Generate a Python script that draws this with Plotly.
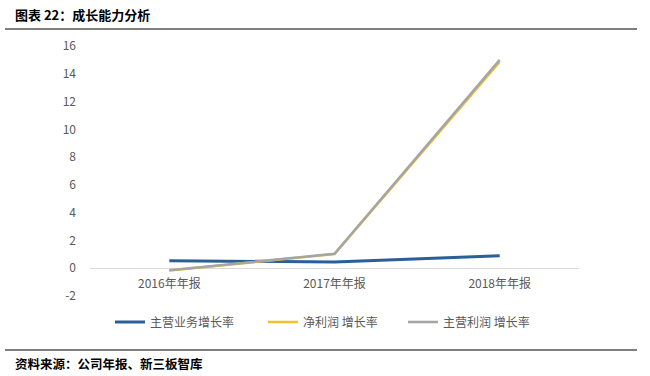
import plotly.graph_objects as go

categories = ["2016年年报", "2017年年报", "2018年年报"]
main_business_growth = [0.54, 0.45, 0.90]
net_profit_growth = [-0.17, 1.02, 14.85]
main_profit_growth = [-0.15, 1.04, 15.0]
series_names = ["主营业务增长率", "净利润 增长率", "主营利润 增长率"]
y_ticks = [-2, 0, 2, 4, 6, 8, 10, 12, 14, 16]
y_tick_labels = [str(v) for v in y_ticks]
y_range = [-2, 16]

FONT = "Noto Sans CJK SC"
fig = go.Figure()
fig.add_trace(go.Scatter(x=categories, y=main_business_growth, name=series_names[0],
                         mode="lines", line=dict(color="#2b5f97", width=3), legend="legend"))
fig.add_trace(go.Scatter(x=categories, y=net_profit_growth, name=series_names[1],
                         mode="lines", line=dict(color="#f2c22a", width=2.5), legend="legend2"))
fig.add_trace(go.Scatter(x=categories, y=main_profit_growth, name=series_names[2],
                         mode="lines", line=dict(color="#a5a5a5", width=2.5), legend="legend3"))

def leg(xpx):
    return dict(orientation="h", x=xpx / 650, xref="container", y=1 - 322 / 376, yref="container",
                xanchor="left", yanchor="middle", itemwidth=30,
                font=dict(size=12, color="#595959"), bgcolor="rgba(0,0,0,0)")

zero_pos = (0 - y_range[0]) / (y_range[1] - y_range[0])

fig.update_layout(
    width=650, height=376,
    margin=dict(l=90, r=71, t=46, b=80, autoexpand=False),
    paper_bgcolor="white", plot_bgcolor="white",
    font=dict(family=FONT, color="#595959", size=12),
    showlegend=True,
    legend=leg(110), legend2=leg(263), legend3=leg(403),
    xaxis=dict(type="category", range=[-0.48, 2.48], showgrid=False, showline=False,
               anchor="free", position=zero_pos, ticklabelstandoff=7,
               ticks="", tickfont=dict(size=12, color="#595959"), fixedrange=True),
    yaxis=dict(range=y_range, tickvals=y_ticks, ticktext=y_tick_labels, showgrid=False,
               showline=False, zeroline=True, zerolinecolor="#d9d9d9", zerolinewidth=1,
               ticks="", ticklabelstandoff=13, tickfont=dict(size=12, color="#595959")),
)

def px_x(px):
    return (px - 90) / (650 - 90 - 71)

def px_y(py):
    return (376 - 80 - py) / (376 - 46 - 80)

fig.add_shape(type="line", xref="paper", yref="paper", x0=px_x(5), x1=px_x(637),
              y0=px_y(29), y1=px_y(29), line=dict(color="black", width=1.2))
fig.add_shape(type="line", xref="paper", yref="paper", x0=px_x(5), x1=px_x(637),
              y0=px_y(350), y1=px_y(350), line=dict(color="black", width=1.2))
fig.add_annotation(text="<b>图表 22：成长能力分析</b>", xref="paper", yref="paper",
                   x=px_x(13), y=px_y(15), xanchor="left", yanchor="middle",
                   showarrow=False, font=dict(family=FONT, size=13, color="black"))
fig.add_annotation(text="<b>资料来源：公司年报、新三板智库</b>", xref="paper", yref="paper",
                   x=px_x(13), y=px_y(363), xanchor="left", yanchor="middle",
                   showarrow=False, font=dict(family=FONT, size=12.5, color="black"))

fig.write_html("out.html", config={"displayModeBar": False},
               post_script="document.body.style.margin='0';")
